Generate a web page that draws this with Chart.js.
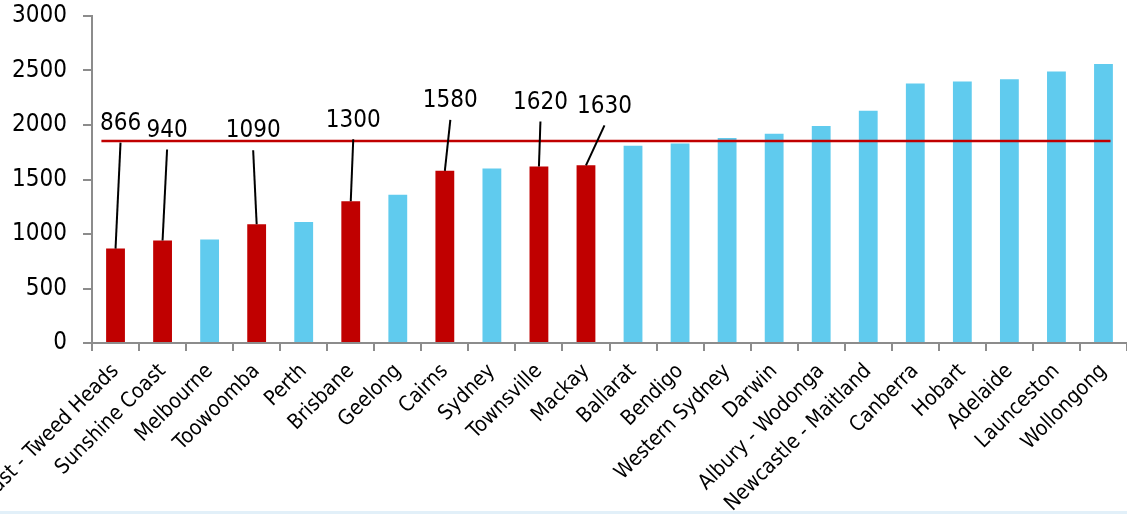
<!DOCTYPE html>
<html>
<head>
<meta charset="utf-8">
<script src="https://cdn.jsdelivr.net/npm/chart.js@4.4.0/dist/chart.umd.min.js"></script>
<style>
  html, body { margin: 0; padding: 0; background: #fff; }
  #wrap { position: relative; width: 1127px; height: 514px; }
  #edge { position: absolute; left: 0; right: 0; bottom: 0; height: 3px; background: #e2f0f9; }
</style>
</head>
<body>
<div id="wrap">
  <canvas id="chart" width="1127" height="514"></canvas>
  <div id="edge"></div>
</div>
<script>
// Categories and values
const cities = [
  'Gold Coast - Tweed Heads', 'Sunshine Coast', 'Melbourne', 'Toowoomba', 'Perth',
  'Brisbane', 'Geelong', 'Cairns', 'Sydney', 'Townsville', 'Mackay', 'Ballarat',
  'Bendigo', 'Western Sydney', 'Darwin', 'Albury - Wodonga', 'Newcastle - Maitland',
  'Canberra', 'Hobart', 'Adelaide', 'Launceston', 'Wollongong'
];
const values = [
  866, 940, 950, 1090, 1110, 1300, 1360, 1580, 1600, 1620, 1630, 1810,
  1830, 1880, 1920, 1990, 2130, 2380, 2400, 2420, 2490, 2560
];
// Cities picked out in red (and labelled)
const highlighted = [
  true, true, false, true, false, true, false, true, false, true, true, false,
  false, false, false, false, false, false, false, false, false, false
];
// Horizontal reference level, with where it starts and ends (category index units)
const refLevel = 1853;
const refSpan = [-0.3, 21.15];
const yTicks = [0, 500, 1000, 1500, 2000, 2500, 3000];

const RED = '#c00000';
const BLUE = '#60cbee';
const AXIS = '#8c8c8c';
const FONT = '"DejaVu Sans Condensed", "DejaVu Sans", sans-serif';

// Label placement for the red bars: [dx, dy] in px from bar top
const labelOffsets = {
  0: [5, -125], 1: [4.5, -110], 3: [-3.5, -93], 5: [2.5, -81],
  7: [5.5, -70], 9: [1.5, -64], 10: [18.5, -59]
};

// Red reference line, drawn through the chart's own scales
const refLine = {
  id: 'refLine',
  afterDatasetsDraw(chart) {
    const { ctx, scales: { x, y } } = chart;
    const yPx = y.getPixelForValue(refLevel);
    ctx.save();
    ctx.strokeStyle = RED;
    ctx.lineWidth = 2.5;
    ctx.beginPath();
    ctx.moveTo(x.getPixelForValue(refSpan[0]), yPx);
    ctx.lineTo(x.getPixelForValue(refSpan[1]), yPx);
    ctx.stroke();
    ctx.restore();
  }
};

// Number labels with leader lines to the red bars
const leaderLabels = {
  id: 'leaderLabels',
  afterDatasetsDraw(chart) {
    const ctx = chart.ctx;
    const meta = chart.getDatasetMeta(0);
    ctx.save();
    ctx.font = '24px ' + FONT;
    ctx.fillStyle = '#000';
    ctx.strokeStyle = '#000';
    ctx.lineWidth = 2;
    ctx.textAlign = 'center';
    ctx.textBaseline = 'middle';
    meta.data.forEach((bar, i) => {
      if (!highlighted[i]) return;
      const off = labelOffsets[i] || [0, -80];
      const lx = bar.x + off[0];
      const ly = bar.y + off[1];
      ctx.beginPath();
      ctx.moveTo(lx, ly + 19);
      ctx.lineTo(bar.x, bar.y);
      ctx.stroke();
      ctx.fillText(String(values[i]), lx, ly);
    });
    ctx.restore();
  }
};

const ctx = document.getElementById('chart').getContext('2d');
new Chart(ctx, {
  type: 'bar',
  data: {
    labels: cities,
    datasets: [
      {
        data: values,
        backgroundColor: highlighted.map(h => h ? RED : BLUE),
        borderWidth: 0,
        barPercentage: 0.4,
        categoryPercentage: 1.0
      }
    ]
  },
  options: {
    responsive: false,
    animation: false,
    layout: { padding: { top: 16, right: 0, left: 0, bottom: 0 } },
    plugins: {
      legend: { display: false },
      tooltip: { enabled: false }
    },
    scales: {
      x: {
        offset: true,
        grid: {
          display: true,
          offset: true,
          drawOnChartArea: false,
          color: AXIS,
          lineWidth: 2,
          tickLength: 8,
          tickWidth: 2
        },
        border: { color: AXIS, width: 2 },
        ticks: {
          color: '#000',
          font: { family: FONT, size: 21 },
          maxRotation: 45,
          minRotation: 45,
          autoSkip: false,
          padding: 8
        },
        afterFit(scale) {
          scale.height = 171;
          scale.paddingLeft = 0;
          scale.paddingRight = 0;
        }
      },
      y: {
        min: 0,
        max: 3000,
        afterBuildTicks(scale) {
          scale.ticks = yTicks.map(v => ({ value: v }));
        },
        grid: {
          display: true,
          drawOnChartArea: false,
          color: AXIS,
          lineWidth: 2,
          tickLength: 9,
          tickWidth: 2
        },
        border: { color: AXIS, width: 2 },
        ticks: {
          color: '#000',
          font: { family: FONT, size: 24 },
          padding: 16,
          callback: v => String(v)
        },
        afterFit(scale) {
          scale.width = 92;
          scale.paddingTop = 0;
          scale.paddingBottom = 0;
        }
      }
    }
  },
  plugins: [refLine, leaderLabels]
});
</script>
</body>
</html>
